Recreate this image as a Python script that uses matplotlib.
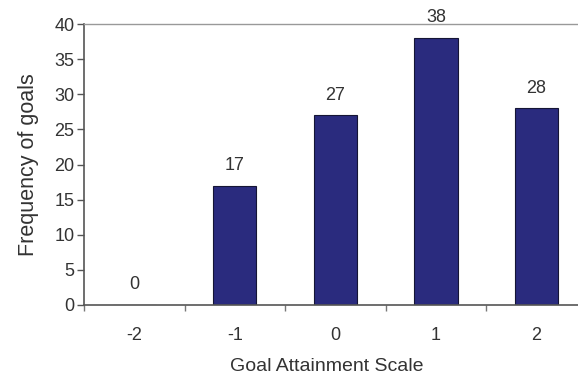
import numpy as np
import matplotlib
matplotlib.use('Agg')
import matplotlib.pyplot as plt

scale = ['-2', '-1', '0', '1', '2']
goals = [0, 17, 27, 38, 28]

plt.rcParams['font.family'] = ['Liberation Sans', 'DejaVu Sans']

fig = plt.figure(figsize=(5.78, 3.77), dpi=100)
ax = fig.add_axes([0.1453, 0.191, 0.870, 0.745])

ind = np.arange(len(scale))
rects = ax.bar(ind, goals, 0.43, color='#2a2b7e', edgecolor='#151535', linewidth=0.8)

ax.set_xlim(-0.5, len(scale) - 0.5)
ax.set_ylim(0, 40)
ax.set_yticks(np.arange(0, 41, 5))
ax.set_xticks(ind)
ax.set_xticklabels(scale)
ax.set_xticks(np.arange(-0.5, len(scale), 1), minor=True)

ax.tick_params(axis='x', which='major', length=0, pad=16, labelsize=13, colors='#333333')
ax.tick_params(axis='x', which='minor', length=4, width=1, color='#777777')
ax.tick_params(axis='y', length=5, width=1, color='#555555', labelsize=13,
               labelcolor='#333333', pad=2)

for side in ['left', 'bottom']:
    ax.spines[side].set_color('#555555')
    ax.spines[side].set_linewidth(1.2)
ax.spines['top'].set_color('#999999')
ax.spines['top'].set_linewidth(1)
ax.spines['right'].set_visible(False)

ax.set_ylabel('Frequency of goals', fontsize=15.5, color='#333333')
ax.yaxis.set_label_coords(-0.09, 0.5)
ax.set_xlabel('Goal Attainment Scale', fontsize=14, color='#333333')
ax.xaxis.set_label_coords(0.483, -0.235)
ax.xaxis.label.set_va('baseline')

# value labels above the bars
for rect in rects:
    h = rect.get_height()
    ax.annotate('%d' % int(h), (rect.get_x() + rect.get_width() / 2, h),
                xytext=(0, 8.5), textcoords='offset points',
                ha='center', va='bottom', fontsize=13, color='#333333')

fig.savefig('out.png', dpi=100)
